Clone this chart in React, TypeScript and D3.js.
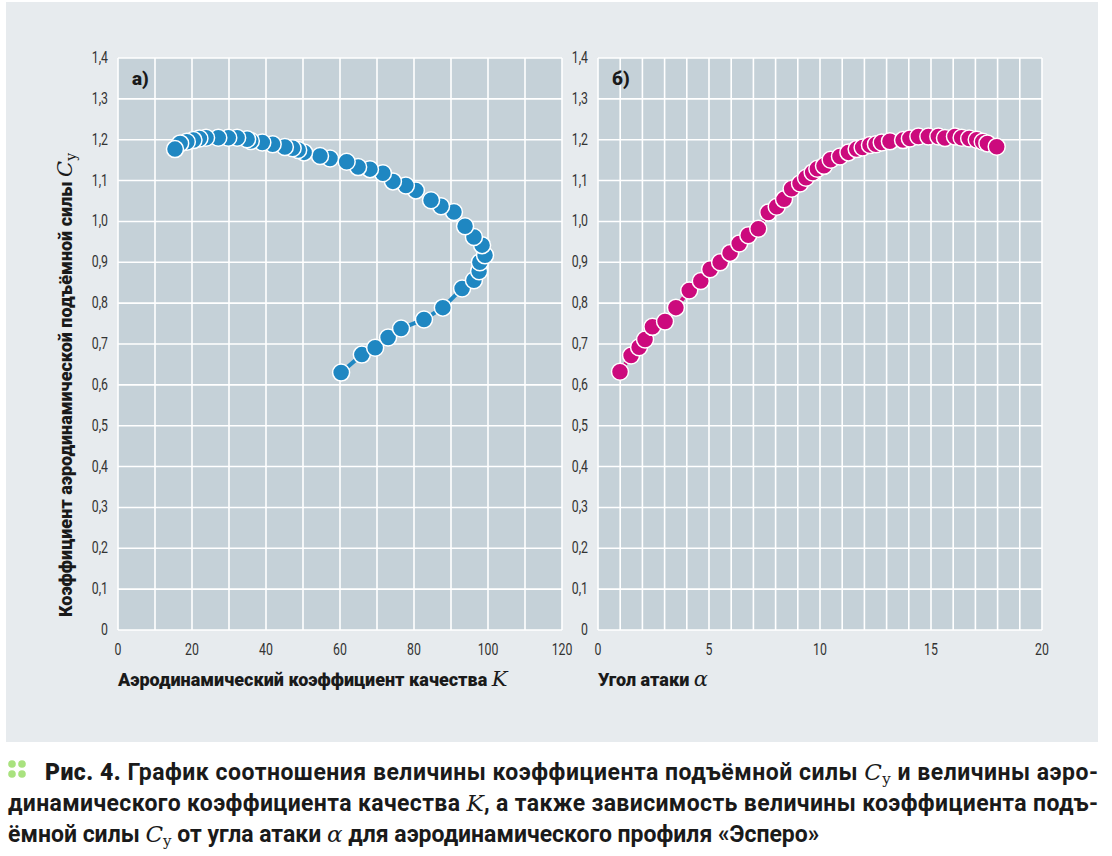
import * as d3 from "d3";

// K vs Cy (ordered by angle of attack)
const kValues = [60.3, 65.9, 69.5, 73.0, 76.5, 82.7, 87.8, 93.0, 96.2, 97.6, 97.8, 99.2, 98.4, 96.2, 93.8, 90.8, 87.3, 84.6, 80.5, 77.8, 74.3, 71.6, 68.1, 64.9, 61.8, 57.3, 54.6, 50.3, 48.7, 47.2, 45.1, 41.8, 39.0, 35.9, 34.9, 32.2, 29.8, 27.1, 23.8, 22.0, 20.4, 18.6, 16.8, 15.4];
const cyLeft = [0.630, 0.674, 0.691, 0.716, 0.738, 0.760, 0.789, 0.836, 0.856, 0.878, 0.900, 0.917, 0.942, 0.962, 0.988, 1.023, 1.037, 1.052, 1.076, 1.088, 1.098, 1.118, 1.128, 1.133, 1.146, 1.154, 1.160, 1.169, 1.175, 1.179, 1.182, 1.189, 1.193, 1.197, 1.201, 1.205, 1.205, 1.205, 1.205, 1.203, 1.199, 1.195, 1.191, 1.177];

// alpha vs Cy
const alphaValues = [0.99, 1.49, 1.85, 2.12, 2.45, 3.02, 3.51, 4.11, 4.63, 5.05, 5.5, 5.95, 6.36, 6.77, 7.22, 7.67, 8.05, 8.38, 8.72, 9.10, 9.37, 9.67, 9.88, 10.18, 10.48, 10.90, 11.28, 11.65, 11.92, 12.25, 12.52, 12.78, 13.15, 13.74, 14.05, 14.43, 14.88, 15.33, 15.63, 16.08, 16.38, 16.72, 17.06, 17.33, 17.54, 17.96];
const cyRight = [0.632, 0.672, 0.692, 0.711, 0.742, 0.755, 0.789, 0.831, 0.854, 0.883, 0.900, 0.923, 0.946, 0.966, 0.982, 1.022, 1.036, 1.054, 1.080, 1.093, 1.107, 1.120, 1.129, 1.136, 1.151, 1.159, 1.169, 1.177, 1.181, 1.187, 1.189, 1.193, 1.196, 1.199, 1.203, 1.208, 1.208, 1.208, 1.204, 1.208, 1.205, 1.203, 1.200, 1.195, 1.191, 1.183];

const yTicks = d3.range(0, 15).map((i) => i / 10);
const kTicks = [0, 20, 40, 60, 80, 100, 120];
const alphaTicks = [0, 5, 10, 15, 20];

const W = 1112;
const H = 856;
const top = 58;
const bottom = 630;

const tickFont = "'Roboto', sans-serif";
const boldFont = "'Roboto', sans-serif";
const mathFont = "'DejaVu Serif', 'Liberation Serif', serif";

const fmt = (v: number) => (v === 0 ? "0" : v.toFixed(1).replace(".", ","));

type PanelProps = {
  xs: number[];
  ys: number[];
  x0: number;
  x1: number;
  domain: [number, number];
  gridStep: number;
  ticks: number[];
  color: string;
  label: string;
};

function Panel({ xs, ys, x0, x1, domain, gridStep, ticks, color, label }: PanelProps) {
  const x = d3.scaleLinear().domain(domain).range([x0, x1]);
  const y = d3.scaleLinear().domain([0, 1.4]).range([bottom, top]);
  const pts: [number, number][] = xs.map((v, i) => [v, ys[i]]);
  const line = d3
    .line<[number, number]>()
    .x((d) => x(d[0]))
    .y((d) => y(d[1]));
  const grid = d3.range(domain[0], domain[1] + gridStep / 2, gridStep);

  return (
    <g>
      <rect x={x0} y={top} width={x1 - x0} height={bottom - top} fill="#c5d1d8" />
      {grid.map((g) => (
        <line key={"v" + g} x1={x(g)} x2={x(g)} y1={top} y2={bottom} stroke="#fff" strokeWidth={1.6} />
      ))}
      {yTicks.map((t) => (
        <line key={"h" + t} x1={x0} x2={x1} y1={y(t)} y2={y(t)} stroke="#fff" strokeWidth={1.6} />
      ))}
      {yTicks.map((t) => (
        <text key={"yl" + t} transform={`translate(${x0 - 10},${y(t) + 5}) scale(0.82,1.08)`} textAnchor="end" fontSize={15} fill="#333" fontFamily={tickFont}>
          {fmt(t)}
        </text>
      ))}
      {ticks.map((t) => (
        <text key={"xl" + t} transform={`translate(${x(t)},${bottom + 25}) scale(0.82,1.08)`} textAnchor="middle" fontSize={15} fill="#333" fontFamily={tickFont}>
          {t}
        </text>
      ))}
      <text x={x0 + 14} y={top + 27} fontSize={19} fontWeight={900} fill="#1a1a1a" fontFamily={boldFont}>
        {label}
      </text>
      <path d={line(pts) || ""} fill="none" stroke={color} strokeWidth={4} />
      {pts.map((d, i) => (
        <circle key={i} cx={x(d[0])} cy={y(d[1])} r={8.5} fill={color} stroke="#fff" strokeWidth={1.5} />
      ))}
    </g>
  );
}

export default function App() {
  return (
    <svg width={W} height={H} style={{ display: "block", position: "absolute", left: 0, top: 0 }}>
      <rect x={0} y={0} width={W} height={H} fill="#fff" />
      <rect x={6} y={2} width={1092} height={740} fill="#e7ebee" />
      <Panel xs={kValues} ys={cyLeft} x0={118} x1={562} domain={[0, 120]} gridStep={10} ticks={kTicks} color="#1f87c2" label="а)" />
      <Panel xs={alphaValues} ys={cyRight} x0={598} x1={1042} domain={[0, 20]} gridStep={1} ticks={alphaTicks} color="#cc0a7d" label="б)" />

      <text transform="translate(72,385) rotate(-90)" textAnchor="middle" fontSize={18} fontWeight={900} fill="#1a1a1a" fontFamily={boldFont}>
        Коэффициент аэродинамической подъёмной силы{" "}
        <tspan fontFamily={mathFont} fontWeight="normal" fontStyle="italic" fontSize={21}>C</tspan>
        <tspan fontFamily={mathFont} fontWeight="normal" fontSize={14} dy={4}>y</tspan>
      </text>
      <text x={118} y={686} fontSize={18} fontWeight={900} fill="#1a1a1a" fontFamily={boldFont}>
        Аэродинамический коэффициент качества{" "}
        <tspan fontFamily={mathFont} fontWeight="normal" fontStyle="italic" fontSize={21}>K</tspan>
      </text>
      <text x={598} y={686} fontSize={18} fontWeight={900} fill="#1a1a1a" fontFamily={boldFont}>
        Угол атаки <tspan fontFamily={mathFont} fontWeight="normal" fontStyle="italic" fontSize={21}>α</tspan>
      </text>

      {[0, 1].map((r) =>
        [0, 1].map((c) => <circle key={`${r}${c}`} cx={12 + c * 10} cy={764 + r * 10} r={3.8} fill="#a9e27f" />)
      )}
      <g fontFamily={boldFont} fontSize={23} fontWeight="bold" fill="#1a1a1a">
        <text x={45} y={780} textLength={1053} lengthAdjust="spacing">
          <tspan fontWeight={900}>Рис. 4.</tspan> График соотношения величины коэффициента подъёмной силы{" "}
          <tspan fontFamily={mathFont} fontWeight="normal" fontStyle="italic">C</tspan>
          <tspan fontFamily={mathFont} fontWeight="normal" fontSize={15} dy={4}>y</tspan>
          <tspan dy={-4}> и величины аэро-</tspan>
        </text>
        <text x={8} y={811} textLength={1090} lengthAdjust="spacing">
          динамического коэффициента качества{" "}
          <tspan fontFamily={mathFont} fontWeight="normal" fontStyle="italic">K</tspan>, а также зависимость величины коэффициента подъ-
        </text>
        <text x={8} y={842}>
          ёмной силы <tspan fontFamily={mathFont} fontWeight="normal" fontStyle="italic">C</tspan>
          <tspan fontFamily={mathFont} fontWeight="normal" fontSize={15} dy={4}>y</tspan>
          <tspan dy={-4}> от угла атаки </tspan>
          <tspan fontFamily={mathFont} fontWeight="normal" fontStyle="italic">α</tspan> для аэродинамического профиля «Эсперо»
        </text>
      </g>
    </svg>
  );
}
